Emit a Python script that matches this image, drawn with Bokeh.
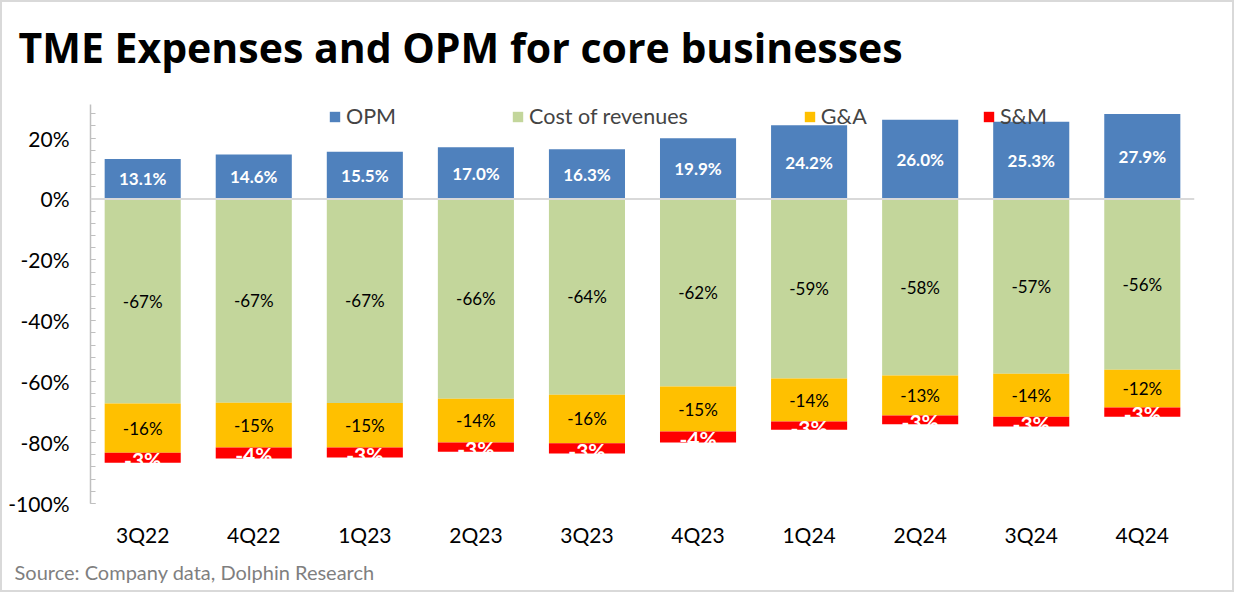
from bokeh.plotting import figure
from bokeh.models import (ColumnDataSource, LabelSet, Span, Legend, LegendItem,
                          SingleIntervalTicker, PrintfTickFormatter, Title, FactorRange)
from bokeh.core.properties import value
from bokeh.embed import file_html
from bokeh.resources import INLINE

quarters = ["3Q22", "4Q22", "1Q23", "2Q23", "3Q23", "4Q23", "1Q24", "2Q24", "3Q24", "4Q24"]
opm = [13.1, 14.6, 15.5, 17.0, 16.3, 19.9, 24.2, 26.0, 25.3, 27.9]
cost_of_revenues = [67.2, 66.9, 67.0, 65.6, 64.3, 61.6, 59.0, 58.0, 57.4, 56.1]
g_and_a = [16.1, 14.7, 14.6, 14.4, 15.9, 14.8, 14.1, 13.1, 14.1, 12.4]
s_and_m = [3.3, 3.6, 3.3, 3.0, 3.4, 3.6, 2.7, 2.9, 3.2, 3.0]

C_OPM = "#4F81BD"
C_COST = "#C3D69B"
C_GA = "#FFC000"
C_SM = "#FF0000"
FONT = "Lato"

cost_bot = [-c for c in cost_of_revenues]
ga_bot = [cb - g for cb, g in zip(cost_bot, g_and_a)]
sm_bot = [gb - s for gb, s in zip(ga_bot, s_and_m)]

src = ColumnDataSource(dict(
    x=quarters,
    opm_top=opm, zero=[0] * len(quarters),
    cost_bot=cost_bot, ga_bot=ga_bot, sm_bot=sm_bot,
    opm_mid=[v / 2 for v in opm],
    cost_mid=[b / 2 for b in cost_bot],
    ga_mid=[(a + b) / 2 for a, b in zip(cost_bot, ga_bot)],
    sm_mid=[(a + b) / 2 - 0.6 for a, b in zip(ga_bot, sm_bot)],
    opm_lbl=["%.1f%%" % v for v in opm],
    cost_lbl=["-%d%%" % round(v) for v in cost_of_revenues],
    ga_lbl=["-%d%%" % round(v) for v in g_and_a],
    sm_lbl=["-%d%%" % round(v) for v in s_and_m],
))

p = figure(width=1234, height=592, x_range=FactorRange(*quarters, range_padding=-0.006),
           y_range=(-100, 31), output_backend="svg", toolbar_location=None,
           min_border_left=88, min_border_right=42, min_border_bottom=91, min_border_top=102)
p.styles = {"border": "2px solid #d9d9d9", "box-sizing": "border-box"}
p.outline_line_color = None
p.background_fill_color = "white"
p.border_fill_color = "white"
p.xgrid.grid_line_color = None
p.ygrid.grid_line_color = None

W = 0.685
r_opm = p.vbar(x="x", bottom="zero", top="opm_top", width=W, color=C_OPM, line_color=None, source=src)
r_cost = p.vbar(x="x", bottom="cost_bot", top="zero", width=W, color=C_COST, line_color=None, source=src)
r_ga = p.vbar(x="x", bottom="ga_bot", top="cost_bot", width=W, color=C_GA, line_color=None, source=src)
r_sm = p.vbar(x="x", bottom="sm_bot", top="ga_bot", width=W, color=C_SM, line_color=None, source=src)

p.add_layout(Span(location=0, dimension="width", line_color="#d9d9d9", line_width=2))

p.add_layout(LabelSet(x="x", y="opm_mid", text="opm_lbl", source=src, text_align="center",
                      text_baseline="middle", text_color="white", text_font=value(FONT),
                      text_font_style="bold", text_font_size="17px"))
p.add_layout(LabelSet(x="x", y="cost_mid", text="cost_lbl", source=src, text_align="center",
                      text_baseline="middle", text_color="black", text_font=value(FONT),
                      text_font_size="17px"))
p.add_layout(LabelSet(x="x", y="ga_mid", text="ga_lbl", source=src, text_align="center",
                      text_baseline="middle", text_color="black", text_font=value(FONT),
                      text_font_size="17px"))
p.add_layout(LabelSet(x="x", y="sm_mid", text="sm_lbl", source=src, text_align="center",
                      text_baseline="middle", text_color="white", text_font=value(FONT),
                      text_font_style="bold", text_font_size="21px"))

# axes
p.yaxis.ticker = SingleIntervalTicker(interval=20, num_minor_ticks=5)
p.yaxis.formatter = PrintfTickFormatter(format="%d%%")
p.yaxis.axis_line_color = "#bfbfbf"
p.yaxis.axis_line_width = 1.5
p.yaxis.major_tick_line_color = "#bfbfbf"
p.yaxis.minor_tick_line_color = "#bfbfbf"
p.yaxis.major_tick_in = 5
p.yaxis.major_tick_out = 0
p.yaxis.minor_tick_in = 5
p.yaxis.minor_tick_out = 0
p.yaxis.major_label_text_font = FONT
p.yaxis.major_label_text_font_size = "21px"
p.yaxis.major_label_text_color = "black"
p.yaxis.major_label_standoff = 21

p.xaxis.axis_line_color = None
p.xaxis.major_tick_line_color = None
p.xaxis.minor_tick_line_color = None
p.xaxis.major_label_text_font = FONT
p.xaxis.major_label_text_font_size = "21px"
p.xaxis.major_label_text_color = "black"
p.xaxis.major_label_standoff = 12

legend = Legend(items=[LegendItem(label="OPM", renderers=[r_opm]),
                       LegendItem(label="Cost of revenues", renderers=[r_cost]),
                       LegendItem(label="G&A", renderers=[r_ga]),
                       LegendItem(label="S&M", renderers=[r_sm])],
                orientation="horizontal", location=(238, 374), spacing=115,
                glyph_width=13, glyph_height=13, label_standoff=5,
                label_text_font=FONT, label_text_font_size="21.5px",
                border_line_color=None, background_fill_alpha=0, padding=0, margin=0)
p.add_layout(legend)

p.title = Title(text="TME Expenses and OPM for core businesses", text_font="Open Sans",
                text_font_style="bold", text_font_size="41px", text_color="black",
                offset=-72, standoff=0, padding=dict(top=0, right=0, bottom=30, left=0))

p.add_layout(Title(text="Source: Company data, Dolphin Research", text_font=FONT,
                   text_font_style="normal", text_font_size="20px", text_color="#7f7f7f",
                   offset=-76, standoff=17), "below")

open("out.html", "w").write(file_html(p, INLINE))
